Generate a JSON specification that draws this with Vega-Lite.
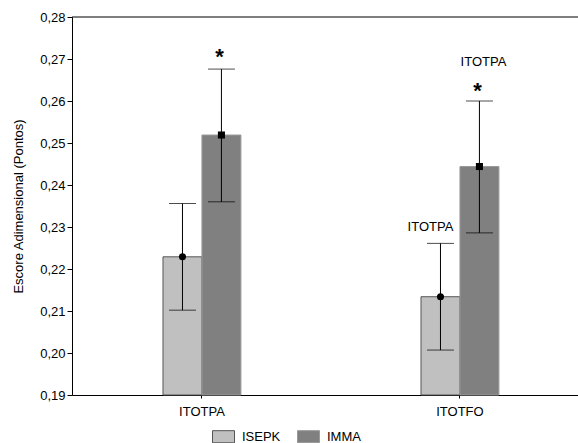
{
  "$schema": "https://vega.github.io/schema/vega-lite/v6.json",
  "autosize": "none",
  "width": 506,
  "height": 378,
  "padding": {"left": 72, "top": 17, "right": 0, "bottom": 48},
  "background": "white",
  "config": {
    "view": {"stroke": null},
    "font": "Liberation Sans",
    "locale": {"number": {"decimal": ",", "thousands": ".", "grouping": [3], "currency": ["", ""]}},
    "axis": {"labelFont": "Liberation Sans", "titleFont": "Liberation Sans", "labelColor": "#000", "titleColor": "#000", "domainColor": "#000", "tickColor": "#000", "grid": false}
  },
  "datasets": {
    "bars": [
      {"variable": "ITOTPA", "group": "ISEPK", "mean": 0.2229, "low": 0.2102, "high": 0.2356},
      {"variable": "ITOTPA", "group": "IMMA", "mean": 0.2519, "low": 0.2360, "high": 0.2676},
      {"variable": "ITOTFO", "group": "ISEPK", "mean": 0.2134, "low": 0.2007, "high": 0.2261},
      {"variable": "ITOTFO", "group": "IMMA", "mean": 0.2444, "low": 0.2286, "high": 0.2600}
    ],
    "notes": [
      {"variable": "ITOTPA", "group": "IMMA", "value": 0.2719, "label": "*"},
      {"variable": "ITOTFO", "group": "IMMA", "value": 0.2638, "label": "*"}
    ],
    "labels": [
      {"variable": "ITOTFO", "group": "IMMA", "value": 0.2694, "label": "ITOTPA"},
      {"variable": "ITOTFO", "group": "ISEPK", "value": 0.2301, "label": "ITOTPA"}
    ],
    "top": [{"v": 0.28}]
  },
  "layer": [
    {
      "data": {"name": "bars"},
      "mark": {"type": "bar", "strokeWidth": 1},
      "encoding": {
        "x": {
          "field": "variable", "type": "nominal",
          "scale": {"domain": ["ITOTPA", "ITOTFO"], "paddingInner": 0.698, "paddingOuter": 0.3296, "align": 0.535},
          "axis": {"title": null, "labelAngle": 0, "labelFontSize": 13, "tickSize": 3, "labelPadding": 7, "domainWidth": 1}
        },
        "xOffset": {"field": "group", "type": "nominal", "scale": {"domain": ["ISEPK", "IMMA"], "paddingInner": 0, "paddingOuter": 0}},
        "y": {"field": "mean", "type": "quantitative",
          "scale": {"domain": [0.19, 0.28], "zero": false, "nice": false},
          "axis": {"title": "Escore Adimensional (Pontos)", "titleFontSize": 13, "titleFontWeight": "normal", "titlePadding": 14, "labelFontSize": 13, "format": ".2f", "values": [0.19, 0.2, 0.21, 0.22, 0.23, 0.24, 0.25, 0.26, 0.27, 0.28], "labelOverlap": false, "tickSize": 5, "labelPadding": 2}},
        "y2": {"datum": 0.19},
        "fill": {"field": "group", "type": "nominal", "scale": {"domain": ["ISEPK", "IMMA"], "range": ["#c0c0c0", "#808080"]},
          "legend": {"title": null, "orient": "none", "legendX": 140, "legendY": 408, "direction": "horizontal", "symbolType": "M-1,-0.55H1V0.55H-1Z", "symbolSize": 484, "symbolStrokeColor": "#333", "symbolStrokeWidth": 1, "labelFontSize": 13, "labelFont": "Liberation Sans", "labelColor": "#000", "columnPadding": 14, "labelOffset": 7}},
        "stroke": {"field": "group", "type": "nominal", "scale": {"domain": ["ISEPK", "IMMA"], "range": ["#555555", "#999999"]}, "legend": null}
      }
    },
    {
      "data": {"name": "bars"},
      "mark": {"type": "rule", "color": "#000", "strokeWidth": 1},
      "encoding": {
        "x": {"field": "variable", "type": "nominal"},
        "xOffset": {"field": "group", "type": "nominal"},
        "y": {"field": "low", "type": "quantitative"},
        "y2": {"field": "high"}
      }
    },
    {
      "data": {"name": "bars"},
      "mark": {"type": "tick", "color": "#000", "thickness": 1, "size": 27},
      "encoding": {
        "x": {"field": "variable", "type": "nominal"},
        "xOffset": {"field": "group", "type": "nominal"},
        "y": {"field": "low", "type": "quantitative"}
      }
    },
    {
      "data": {"name": "bars"},
      "mark": {"type": "tick", "color": "#000", "thickness": 1, "size": 27},
      "encoding": {
        "x": {"field": "variable", "type": "nominal"},
        "xOffset": {"field": "group", "type": "nominal"},
        "y": {"field": "high", "type": "quantitative"}
      }
    },
    {
      "data": {"name": "bars"},
      "transform": [{"filter": "datum.group === 'ISEPK'"}],
      "mark": {"type": "point", "shape": "circle", "filled": true, "opacity": 1, "color": "#000", "size": 50},
      "encoding": {
        "x": {"field": "variable", "type": "nominal"},
        "xOffset": {"field": "group", "type": "nominal"},
        "y": {"field": "mean", "type": "quantitative"}
      }
    },
    {
      "data": {"name": "bars"},
      "transform": [{"filter": "datum.group === 'IMMA'"}],
      "mark": {"type": "point", "shape": "square", "filled": true, "opacity": 1, "color": "#000", "size": 50},
      "encoding": {
        "x": {"field": "variable", "type": "nominal"},
        "xOffset": {"field": "group", "type": "nominal"},
        "y": {"field": "mean", "type": "quantitative"}
      }
    },
    {
      "data": {"name": "notes"},
      "mark": {"type": "text", "fontSize": 22, "fontWeight": "bold", "baseline": "middle", "dy": 6, "dx": -2, "color": "#000"},
      "encoding": {
        "x": {"field": "variable", "type": "nominal"},
        "xOffset": {"field": "group", "type": "nominal"},
        "y": {"field": "value", "type": "quantitative"},
        "text": {"field": "label"}
      }
    },
    {
      "data": {"name": "labels"},
      "transform": [{"filter": "datum.group === 'IMMA'"}],
      "mark": {"type": "text", "fontSize": 13, "baseline": "middle", "dx": 4, "color": "#000"},
      "encoding": {
        "x": {"field": "variable", "type": "nominal"},
        "xOffset": {"field": "group", "type": "nominal"},
        "y": {"field": "value", "type": "quantitative"},
        "text": {"field": "label"}
      }
    },
    {
      "data": {"name": "labels"},
      "transform": [{"filter": "datum.group === 'ISEPK'"}],
      "mark": {"type": "text", "fontSize": 13, "baseline": "middle", "dx": -10, "color": "#000"},
      "encoding": {
        "x": {"field": "variable", "type": "nominal"},
        "xOffset": {"field": "group", "type": "nominal"},
        "y": {"field": "value", "type": "quantitative"},
        "text": {"field": "label"}
      }
    },
    {
      "data": {"name": "top"},
      "mark": {"type": "rule", "color": "#000", "strokeWidth": 1},
      "encoding": {"y": {"field": "v", "type": "quantitative"}}
    }
  ]
}
